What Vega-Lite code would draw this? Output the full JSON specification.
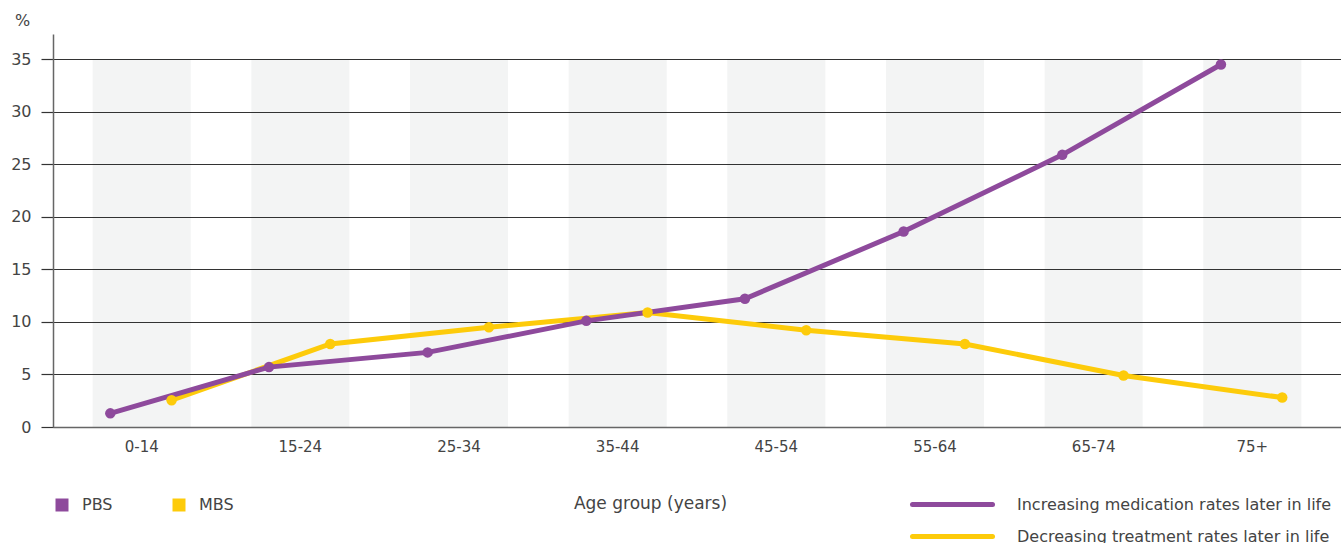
{
  "$schema": "https://vega.github.io/schema/vega-lite/v6.json",
  "width": 1288,
  "height": 393,
  "autosize": "none",
  "padding": {"left": 53, "top": 34, "right": 0, "bottom": 116},
  "config": {
    "view": {"stroke": null},
    "font": "DejaVu Sans",
    "axis": {"labelColor": "#444", "titleColor": "#444", "titleFontWeight": "normal"},
    "legend": {"labelColor": "#444", "labelLimit": 500}
  },
  "data": {
    "values": [
      {"age": "0-14", "series": "MBS", "trend": "Decreasing treatment rates later in life", "value": 2.55},
      {"age": "15-24", "series": "MBS", "trend": "Decreasing treatment rates later in life", "value": 7.9},
      {"age": "25-34", "series": "MBS", "trend": "Decreasing treatment rates later in life", "value": 9.5},
      {"age": "35-44", "series": "MBS", "trend": "Decreasing treatment rates later in life", "value": 10.9},
      {"age": "45-54", "series": "MBS", "trend": "Decreasing treatment rates later in life", "value": 9.2},
      {"age": "55-64", "series": "MBS", "trend": "Decreasing treatment rates later in life", "value": 7.9},
      {"age": "65-74", "series": "MBS", "trend": "Decreasing treatment rates later in life", "value": 4.9},
      {"age": "75+", "series": "MBS", "trend": "Decreasing treatment rates later in life", "value": 2.8},
      {"age": "0-14", "series": "PBS", "trend": "Increasing medication rates later in life", "value": 1.3},
      {"age": "15-24", "series": "PBS", "trend": "Increasing medication rates later in life", "value": 5.7},
      {"age": "25-34", "series": "PBS", "trend": "Increasing medication rates later in life", "value": 7.1},
      {"age": "35-44", "series": "PBS", "trend": "Increasing medication rates later in life", "value": 10.1},
      {"age": "45-54", "series": "PBS", "trend": "Increasing medication rates later in life", "value": 12.2},
      {"age": "55-64", "series": "PBS", "trend": "Increasing medication rates later in life", "value": 18.6},
      {"age": "65-74", "series": "PBS", "trend": "Increasing medication rates later in life", "value": 25.9},
      {"age": "75+", "series": "PBS", "trend": "Increasing medication rates later in life", "value": 34.5}
    ]
  },
  "encoding": {
    "x": {
      "field": "age",
      "type": "nominal",
      "sort": ["0-14", "15-24", "25-34", "35-44", "45-54", "55-64", "65-74", "75+"],
      "scale": {"paddingInner": 0.382, "paddingOuter": 0.25},
      "axis": {
        "title": "Age group (years)",
        "titleX": 597,
        "titleY": 76,
        "titleBaseline": "middle",
        "titleFontSize": 17,
        "labelFontSize": 15,
        "labelAngle": 0,
        "labelPadding": 12,
        "ticks": false,
        "domainColor": "#666",
        "domainWidth": 1.5,
        "grid": false
      }
    },
    "y": {
      "field": "value",
      "type": "quantitative",
      "scale": {"domain": [0, 37.4], "nice": false},
      "axis": {
        "title": "%",
        "titleAngle": 0,
        "titleX": -31,
        "titleY": -14,
        "titleAlign": "center",
        "titleBaseline": "middle",
        "titleFontSize": 16,
        "values": [0, 5, 10, 15, 20, 25, 30, 35],
        "grid": true,
        "gridColor": "#333",
        "gridWidth": 1.2,
        "tickColor": "#333",
        "tickSize": 12,
        "tickWidth": 1.2,
        "domainColor": "#666",
        "domainWidth": 1.5,
        "labelFontSize": 16,
        "labelPadding": 10
      }
    }
  },
  "layer": [
    {
      "transform": [{"filter": "datum.series === 'PBS'"}],
      "mark": {"type": "bar", "fill": "#0a2a2a", "fillOpacity": 0.05},
      "encoding": {
        "y": {"datum": 35, "type": "quantitative"},
        "y2": {"datum": 0}
      }
    },
    {
      "transform": [{"filter": "datum.series === 'MBS'"}],
      "mark": {"type": "line", "strokeWidth": 5},
      "encoding": {
        "x": {"field": "age", "type": "nominal", "sort": ["0-14", "15-24", "25-34", "35-44", "45-54", "55-64", "65-74", "75+"], "bandPosition": 0.805},
        "stroke": {
          "field": "trend",
          "type": "nominal",
          "scale": {
            "domain": ["Increasing medication rates later in life", "Decreasing treatment rates later in life"],
            "range": ["#8e4a9c", "#fdcb0a"]
          },
          "legend": {
            "orient": "none",
            "legendX": 887,
            "legendY": 458,
            "direction": "vertical",
            "title": null,
            "symbolType": "M-4,0H4",
            "symbolSize": 400,
            "symbolStrokeWidth": 5,
            "labelFontSize": 16,
            "labelOffset": 52,
            "rowPadding": 9,
            "encode": {"symbols": {"update": {"strokeCap": {"value": "round"}}}}
          }
        }
      }
    },
    {
      "transform": [{"filter": "datum.series === 'PBS'"}],
      "mark": {"type": "line", "strokeWidth": 5},
      "encoding": {
        "x": {"field": "age", "type": "nominal", "sort": ["0-14", "15-24", "25-34", "35-44", "45-54", "55-64", "65-74", "75+"], "bandPosition": 0.18},
        "stroke": {"field": "trend", "type": "nominal"}
      }
    },
    {
      "transform": [{"filter": "datum.series === 'MBS'"}],
      "mark": {"type": "point", "filled": true, "size": 110, "opacity": 1},
      "encoding": {
        "x": {"field": "age", "type": "nominal", "sort": ["0-14", "15-24", "25-34", "35-44", "45-54", "55-64", "65-74", "75+"], "bandPosition": 0.805},
        "color": {
          "field": "series",
          "type": "nominal",
          "scale": {"domain": ["PBS", "MBS"], "range": ["#8e4a9c", "#fdcb0a"]},
          "legend": {
            "orient": "none",
            "legendX": 1,
            "legendY": 463,
            "direction": "horizontal",
            "title": null,
            "symbolType": "square",
            "symbolSize": 169,
            "symbolOpacity": 1,
            "labelFontSize": 16,
            "labelOffset": 12,
            "columnPadding": 58
          }
        }
      }
    },
    {
      "transform": [{"filter": "datum.series === 'PBS'"}],
      "mark": {"type": "point", "filled": true, "size": 110, "opacity": 1},
      "encoding": {
        "x": {"field": "age", "type": "nominal", "sort": ["0-14", "15-24", "25-34", "35-44", "45-54", "55-64", "65-74", "75+"], "bandPosition": 0.18},
        "color": {"field": "series", "type": "nominal"}
      }
    }
  ]
}
